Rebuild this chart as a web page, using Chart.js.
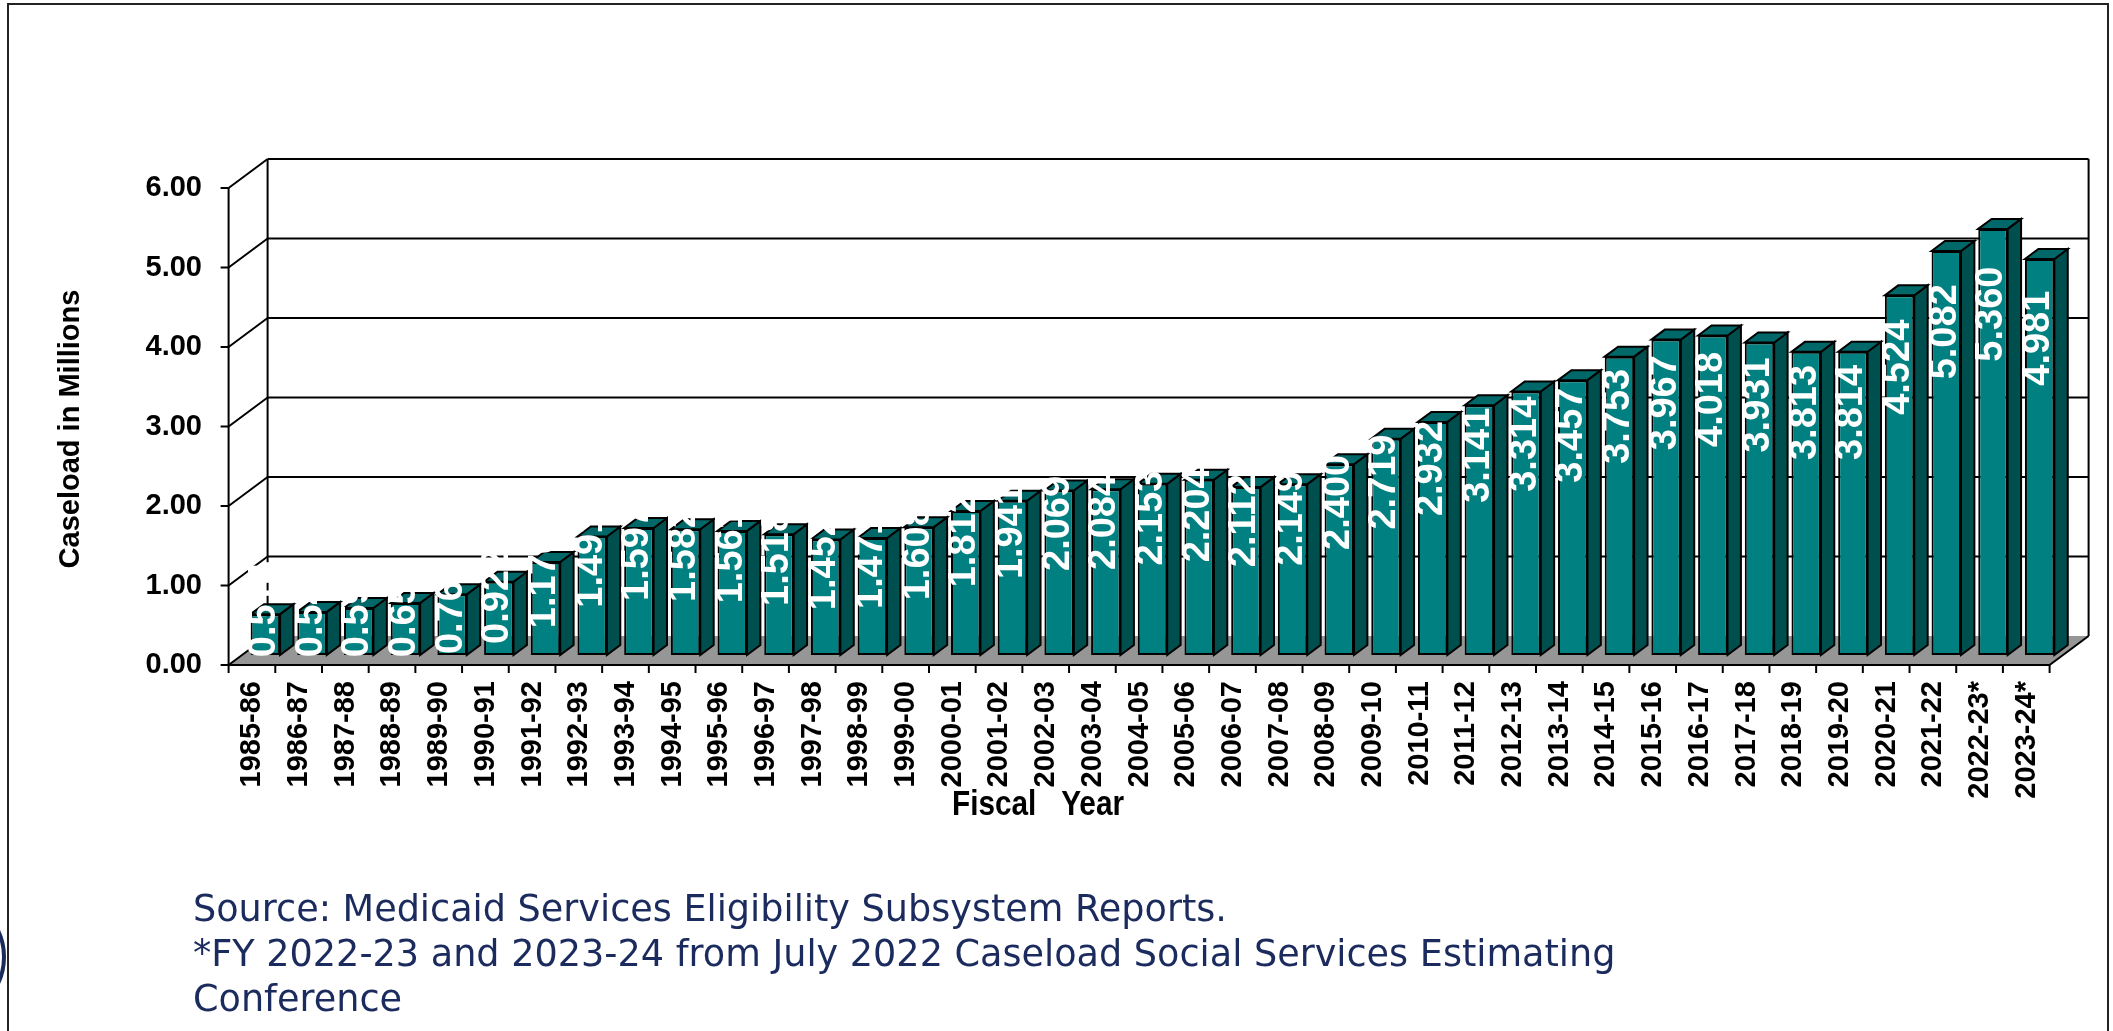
<!DOCTYPE html>
<html>
<head>
<meta charset="utf-8">
<title>Medicaid Caseload</title>
<script src="https://cdn.jsdelivr.net/npm/chart.js@4.4.0/dist/chart.umd.min.js"></script>
<style>
  html, body { margin: 0; padding: 0; background: #fff; overflow: hidden; }
  #wrap { position: relative; width: 2113px; height: 1031px; overflow: hidden; }
  #box { position: absolute; left: 0; top: 0; width: 2113px; height: 1031px; }
  #frame { position: absolute; left: 7px; top: 3px; width: 2102px; height: 1100px; border: 2px solid #222; box-sizing: border-box; }
  #seal { position: absolute; left: -118px; top: 895px; width: 124px; height: 124px; border: 4px solid #1b2b5e; border-radius: 50%; box-sizing: border-box; }
  #note { position: absolute; left: 193px; top: 886px; font-family: "DejaVu Sans", sans-serif; font-size: 36.6px; line-height: 45px; color: #1b2b5e; white-space: nowrap; }
</style>
</head>
<body>
<div id="wrap">
  <div id="seal"></div>
  <div id="frame"></div>
  <div id="box"><canvas id="chart"></canvas></div>
  <div id="note">Source: Medicaid Services Eligibility Subsystem Reports.<br>*FY 2022-23 and 2023-24 from July 2022 Caseload Social Services Estimating<br>Conference</div>
</div>
<script>
// fiscal years on the x axis
const fiscalYears = [
  "1985-86", "1986-87", "1987-88", "1988-89", "1989-90", "1990-91", "1991-92",
  "1992-93", "1993-94", "1994-95", "1995-96", "1996-97", "1997-98", "1998-99",
  "1999-00", "2000-01", "2001-02", "2002-03", "2003-04", "2004-05", "2005-06",
  "2006-07", "2007-08", "2008-09", "2009-10", "2010-11", "2011-12", "2012-13",
  "2013-14", "2014-15", "2015-16", "2016-17", "2017-18", "2018-19", "2019-20",
  "2020-21", "2021-22", "2022-23*", "2023-24*"
];

// caseload in millions
const caseload = [
  0.514, 0.542, 0.591, 0.654, 0.763, 0.922, 1.170,
  1.491, 1.597, 1.582, 1.561, 1.518, 1.452, 1.471,
  1.608, 1.812, 1.941, 2.069, 2.084, 2.153, 2.204,
  2.112, 2.149, 2.400, 2.719, 2.932, 3.141, 3.314,
  3.457, 3.753, 3.967, 4.018, 3.931, 3.813, 3.814,
  4.524, 5.082, 5.360, 4.981
];

const yTicks = [0, 1, 2, 3, 4, 5, 6];

const FONT = '"Liberation Sans", Arial, sans-serif';
const FRONT = "#008080", SIDE = "#004f4f", TOP = "#006868", FLOOR = "#969696";
// bars sit a third of the way into the depth of the box
const BAR_DX = 13.4, BAR_DY = -10;
const BOX_DX = 39, BOX_DY = -29;

function line(ctx, x1, y1, x2, y2) {
  ctx.beginPath();
  ctx.moveTo(x1, y1);
  ctx.lineTo(x2, y2);
  ctx.stroke();
}

function poly(ctx, pts, fill) {
  ctx.beginPath();
  ctx.moveTo(pts[0][0], pts[0][1]);
  for (let i = 1; i < pts.length; i++) ctx.lineTo(pts[i][0], pts[i][1]);
  ctx.closePath();
  ctx.fillStyle = fill;
  ctx.fill();
  ctx.stroke();
}

const box3d = {
  id: "box3d",
  beforeDatasetsDraw(chart) {
    const ctx = chart.ctx, xs = chart.scales.x, ys = chart.scales.y;
    // front plane is in front of the bars
    const fx0 = xs.left - BAR_DX, fx1 = xs.right - BAR_DX;
    const fy = v => ys.getPixelForValue(v) - BAR_DY;
    const bx0 = fx0 + BOX_DX, bx1 = fx1 + BOX_DX;
    const by = v => fy(v) + BOX_DY;

    ctx.save();
    ctx.strokeStyle = "#000";
    ctx.lineWidth = 2;

    // floor
    ctx.beginPath();
    ctx.moveTo(fx0, fy(0));
    ctx.lineTo(fx1, fy(0));
    ctx.lineTo(bx1, by(0));
    ctx.lineTo(bx0, by(0));
    ctx.closePath();
    ctx.fillStyle = FLOOR;
    ctx.fill();

    // back wall grid + side wall diagonals
    yTicks.forEach(v => {
      if (v > 0) line(ctx, bx0, by(v), bx1, by(v));
      line(ctx, fx0, fy(v), bx0, by(v));
      line(ctx, fx0 - 8, fy(v), fx0, fy(v));
    });
    line(ctx, bx0, by(6), bx0, by(0));
    line(ctx, bx1, by(6), bx1, by(0));
    line(ctx, fx0, fy(6), fx0, fy(0) + 1);

    // front edge of floor and category ticks
    line(ctx, fx0, fy(0), fx1, fy(0));
    line(ctx, fx1, fy(0), bx1, by(0));
    const catW = (fx1 - fx0) / fiscalYears.length;
    for (let k = 0; k <= fiscalYears.length; k++) {
      const tx = fx0 + k * catW;
      line(ctx, tx, fy(0), tx, fy(0) + 8);
    }

    // side and top faces of the bars
    chart.getDatasetMeta(0).data.forEach(el => {
      const w = el.width, xl = el.x - w / 2, xr = el.x + w / 2;
      const top = el.y, base = el.base;
      poly(ctx, [[xr, top], [xr + BAR_DX, top + BAR_DY], [xr + BAR_DX, base + BAR_DY], [xr, base]], SIDE);
      poly(ctx, [[xl, top], [xl + BAR_DX, top + BAR_DY], [xr + BAR_DX, top + BAR_DY], [xr, top]], TOP);
    });
    ctx.restore();
  },
  afterDatasetsDraw(chart) {
    const ctx = chart.ctx, ys = chart.scales.y;
    ctx.save();
    ctx.fillStyle = "#fff";
    ctx.font = "bold 38px " + FONT;
    ctx.textAlign = "center";
    ctx.textBaseline = "middle";
    chart.getDatasetMeta(0).data.forEach((el, i) => {
      const v = caseload[i];
      const cy = ys.getPixelForValue(Math.max(0.8 * v, 0.57));
      ctx.save();
      ctx.translate(el.x - 1, cy);
      ctx.rotate(-Math.PI / 2);
      ctx.fillText(v.toFixed(3), 0, 0);
      ctx.restore();
    });
    ctx.restore();
  },
  afterDraw(chart) {
    const ctx = chart.ctx;
    ctx.save();
    ctx.fillStyle = "#000";
    // y axis title
    ctx.font = "bold 29px " + FONT;
    ctx.textAlign = "center";
    ctx.textBaseline = "middle";
    ctx.translate(71, 429);
    ctx.rotate(-Math.PI / 2);
    ctx.fillText("Caseload in Millions", 0, 0);
    ctx.restore();

    // x axis title, narrow bold
    ctx.save();
    ctx.fillStyle = "#000";
    ctx.font = "bold 35px " + FONT;
    ctx.textAlign = "center";
    ctx.textBaseline = "alphabetic";
    ctx.translate(1038, 815);
    ctx.scale(0.85, 1);
    ctx.fillText("Fiscal   Year", 0, 0);
    ctx.restore();
  }
};

const ctx = document.getElementById("chart").getContext("2d");
const chart = new Chart(ctx, {
  type: "bar",
  data: {
    labels: fiscalYears,
    datasets: [{
      label: "Caseload",
      data: caseload,
      backgroundColor: FRONT,
      borderColor: "#000",
      borderWidth: 2,
      borderSkipped: false,
      barPercentage: 0.63,
      categoryPercentage: 1
    }]
  },
  options: {
    responsive: true,
    maintainAspectRatio: false,
    animation: false,
    layout: {
      padding: { left: 42, right: 50, top: 178, bottom: 76 }
    },
    plugins: {
      legend: { display: false },
      title: { display: false },
      tooltip: { enabled: false }
    },
    scales: {
      x: {
        grid: { display: false, drawTicks: false },
        border: { display: false },
        ticks: {
          autoSkip: false,
          minRotation: 90,
          maxRotation: 90,
          labelOffset: -13,
          padding: 26,
          color: "#000",
          font: { family: FONT, weight: "bold", size: 29 }
        },
        afterFit(scale) { scale.height = 300; }
      },
      y: {
        min: 0,
        max: 6,
        grid: { display: false, drawTicks: false },
        border: { display: false },
        ticks: {
          stepSize: 1,
          padding: 40,
          labelOffset: 10,
          color: "#000",
          font: { family: FONT, weight: "bold", size: 29 },
          callback: v => v.toFixed(2)
        },
        afterFit(scale) { scale.width = 200; }
      }
    }
  },
  plugins: [box3d]
});
</script>
</body>
</html>
